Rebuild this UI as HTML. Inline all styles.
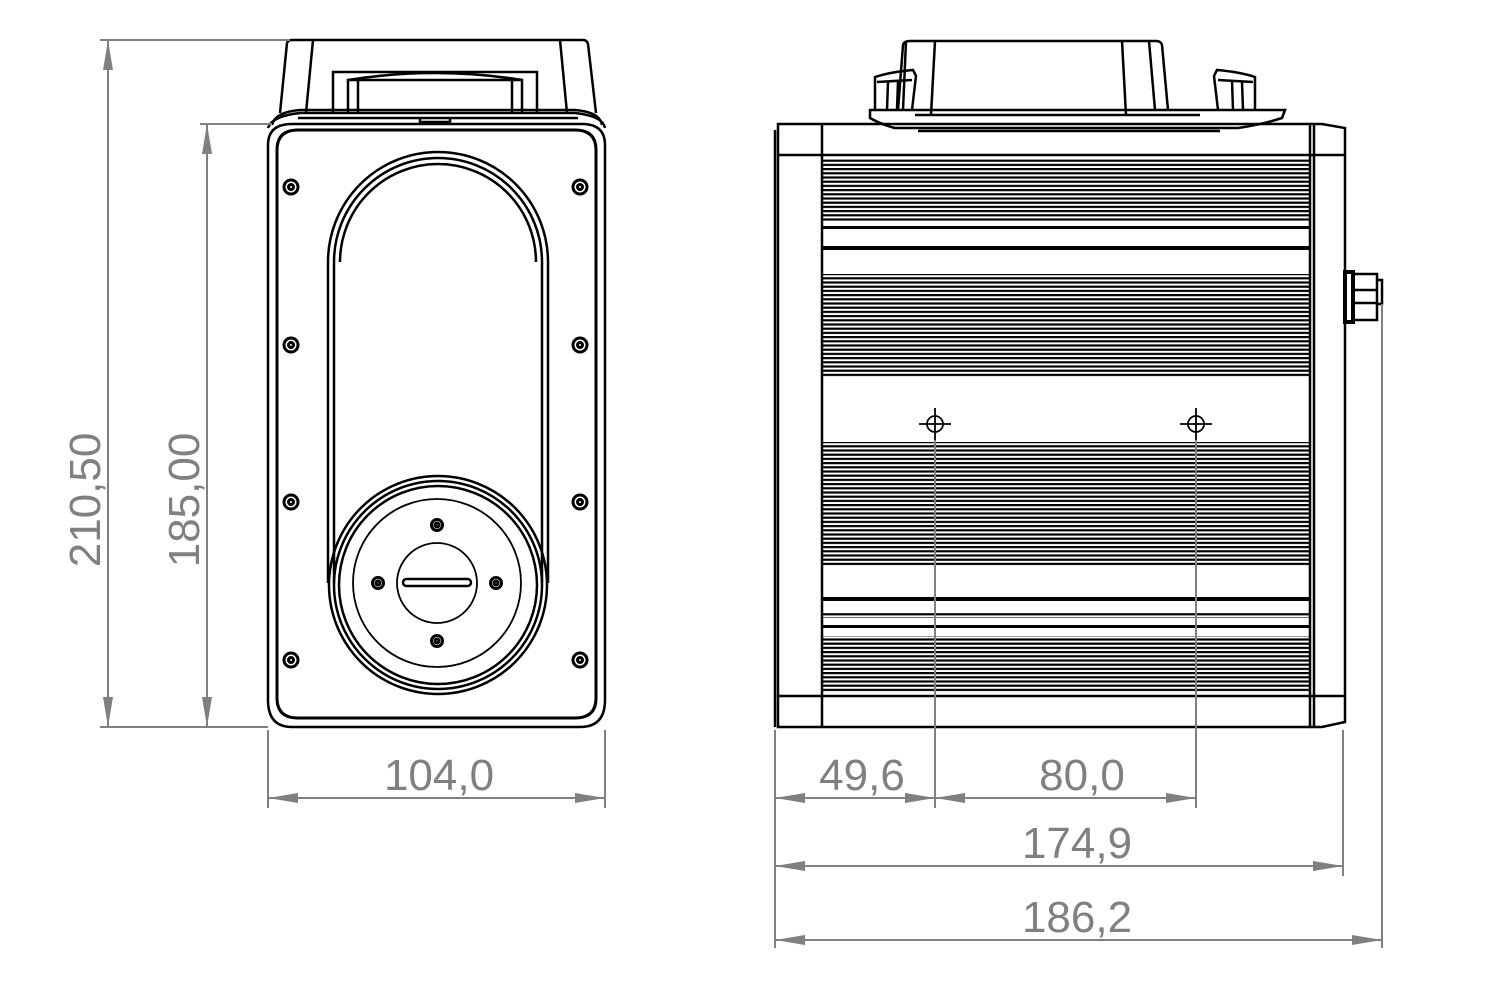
<!DOCTYPE html>
<html><head><meta charset="utf-8"><style>html,body{margin:0;padding:0;background:#fff}svg{display:block}</style></head>
<body>
<svg width="1492" height="997" viewBox="0 0 1492 997" xmlns="http://www.w3.org/2000/svg">
<defs>
<pattern id="fins" x="0" y="0" width="10" height="4.2" patternUnits="userSpaceOnUse">
<rect x="0" y="0" width="10" height="2.2" fill="#000"/>
</pattern>
<marker id="a" viewBox="0 0 30 12" refX="30" refY="6" markerWidth="30" markerHeight="12" markerUnits="userSpaceOnUse" orient="auto-start-reverse"><path d="M0,1 L30,6 L0,11 Z" fill="#808080"/></marker>
</defs>

<!-- ============ LEFT VIEW ============ -->
<g fill="none" stroke="#000" stroke-width="2.5">
<path d="M280,113 L287,43 Q288,40 292,40 L583,40 Q587,40 588,44 L596,113"/>
<path d="M313,40 L306,113 M560,40 L567,113"/>
<path d="M333,112 L333,72 L537,72 L537,112"/>
<path d="M348,112 L348,80 L522,80 L522,112"/>
<path d="M358,112 L358,80 M512,112 L512,80"/>
<path d="M348,80 Q435,66 522,80"/>
<path d="M272,125 Q275,112 300,110 L575,110 Q600,112 602,125"/>
<path d="M268,128 Q272,116 300,113 L575,113 Q603,116 605,128"/>
<path d="M298,118 L578,118"/>
<path d="M420,118 L420,122 L450,122 L450,118"/>
<path d="M268,145 Q268,124 292,124 L582,124 Q605,124 605,145 L605,700 Q605,727 580,727 L292,727 Q268,727 268,700 Z"/>
<path d="M277,150 Q277,130 298,130 L575,130 Q596,130 596,150 L596,698 Q596,718 575,718 L298,718 Q277,718 277,698 Z" stroke-width="3"/>
<path d="M328,583 L328,262 A110,110 0 0 1 548,262 L548,583"/>
<path d="M334,583 L334,262 A104,104 0 0 1 542,262 L542,583"/>
<path d="M340,262 A98,98 0 0 1 536,262"/>
<circle cx="438" cy="585" r="109"/>
<circle cx="438" cy="585" r="104"/>
<circle cx="438" cy="585" r="99"/>
<circle cx="437" cy="583" r="84" stroke-width="1.8"/>
<circle cx="437" cy="583" r="40" stroke-width="1.8"/>
<rect x="403" y="579" width="68" height="7" rx="3.5"/>
</g>
<g fill="none" stroke="#000" stroke-width="3">
<circle cx="437" cy="525" r="5.5"/><circle cx="437" cy="525" r="2"/>
<circle cx="378" cy="583" r="5.5"/><circle cx="378" cy="583" r="2"/>
<circle cx="496" cy="583" r="5.5"/><circle cx="496" cy="583" r="2"/>
<circle cx="437" cy="641" r="5.5"/><circle cx="437" cy="641" r="2"/>
<circle cx="291" cy="187" r="7"/><circle cx="291" cy="187" r="2.5"/>
<circle cx="580" cy="187" r="7"/><circle cx="580" cy="187" r="2.5"/>
<circle cx="291" cy="345" r="7"/><circle cx="291" cy="345" r="2.5"/>
<circle cx="580" cy="345" r="7"/><circle cx="580" cy="345" r="2.5"/>
<circle cx="291" cy="502" r="7"/><circle cx="291" cy="502" r="2.5"/>
<circle cx="580" cy="502" r="7"/><circle cx="580" cy="502" r="2.5"/>
<circle cx="291" cy="660" r="7"/><circle cx="291" cy="660" r="2.5"/>
<circle cx="580" cy="660" r="7"/><circle cx="580" cy="660" r="2.5"/>
</g>

<!-- ============ RIGHT VIEW ============ -->
<g fill="none" stroke="#000" stroke-width="2.5">
<path d="M898,110 L903,45 Q904,41 910,41 L1156,41 Q1161,41 1162,45 L1168,110"/>
<path d="M906,41 L903,110 M935,41 L931,115 M1122,41 L1126,115 M1149,41 L1155,110"/>
<!-- left ear -->
<path d="M875,110 L875,77 Q890,72 913,70 L916,76 L912,110"/>
<path d="M877,82 L912,80 M888,82 L887,110 M898,81 L897,110"/>
<!-- right ear -->
<path d="M1255,110 L1255,77 Q1240,72 1217,70 L1214,76 L1218,110"/>
<path d="M1253,82 L1218,80 M1242,82 L1243,110 M1232,81 L1233,110"/>
<path d="M870,110 L1285,110 L1282,118 Q1260,125 1238,128 L895,128 Q880,124 870,118 Z"/>
<path d="M918,131 L1220,131"/>
<path d="M915,115 L1200,115"/>
<rect x="778" y="124" width="532" height="603"/>
<path d="M1310,124 L1322,124 L1345,128 L1345,722 L1322,727 L1310,727"/>
<path d="M1314,124 L1314,727"/>
<line x1="822" y1="124" x2="822" y2="727"/>
<line x1="778" y1="155" x2="1345" y2="155"/>
<line x1="778" y1="696" x2="1345" y2="696"/>
<line x1="775" y1="130" x2="775" y2="727"/>
</g>
<g>
<rect x="822" y="158" width="488" height="64" fill="url(#fins)"/>
<rect x="822" y="226" width="488" height="3" fill="#000"/>
<rect x="822" y="246" width="488" height="4" fill="#000"/>
<rect x="822" y="274" width="488" height="104" fill="url(#fins)"/>
<rect x="822" y="442" width="488" height="124" fill="url(#fins)"/>
<rect x="822" y="597" width="488" height="4" fill="#000"/>
<rect x="822" y="612" width="488" height="6" fill="url(#fins)"/>
<rect x="822" y="625" width="488" height="3" fill="#000"/>
<rect x="822" y="636" width="488" height="56" fill="url(#fins)"/>
</g>
<g fill="none" stroke="#000" stroke-width="2.5">
<rect x="1345" y="272" width="8" height="50" stroke-width="4"/>
<rect x="1353" y="274" width="24" height="46"/>
<line x1="1353" y1="290" x2="1377" y2="290"/>
<line x1="1353" y1="303" x2="1377" y2="303"/>
<path d="M1377,280 L1382,280 L1382,304 L1377,304"/>
</g>
<g fill="none" stroke="#000" stroke-width="1.8">
<circle cx="935" cy="424" r="8"/><line x1="919" y1="424" x2="951" y2="424"/><line x1="935" y1="408" x2="935" y2="440"/>
<circle cx="1196" cy="424" r="8"/><line x1="1180" y1="424" x2="1212" y2="424"/><line x1="1196" y1="408" x2="1196" y2="440"/>
</g>

<!-- ============ DIMENSIONS ============ -->
<g stroke="#808080" stroke-width="2" fill="none">
<line x1="100" y1="40" x2="290" y2="40"/>
<line x1="100" y1="727" x2="268" y2="727"/>
<line x1="200" y1="124" x2="272" y2="124"/>
<line x1="108" y1="40" x2="108" y2="727" marker-start="url(#a)" marker-end="url(#a)"/>
<line x1="207" y1="124" x2="207" y2="727" marker-start="url(#a)" marker-end="url(#a)"/>
<line x1="268" y1="730" x2="268" y2="808"/>
<line x1="605" y1="730" x2="605" y2="808"/>
<line x1="268" y1="798" x2="605" y2="798" marker-start="url(#a)" marker-end="url(#a)"/>
<line x1="775" y1="730" x2="775" y2="948"/>
<line x1="935" y1="440" x2="935" y2="808"/>
<line x1="1196" y1="440" x2="1196" y2="808"/>
<line x1="1343" y1="730" x2="1343" y2="876"/>
<line x1="1382" y1="304" x2="1382" y2="948"/>
<line x1="775" y1="798" x2="935" y2="798" marker-start="url(#a)" marker-end="url(#a)"/>
<line x1="935" y1="798" x2="1196" y2="798" marker-start="url(#a)" marker-end="url(#a)"/>
<line x1="775" y1="866" x2="1343" y2="866" marker-start="url(#a)" marker-end="url(#a)"/>
<line x1="775" y1="940" x2="1382" y2="940" marker-start="url(#a)" marker-end="url(#a)"/>
</g>
<g fill="#808080" font-family="Liberation Sans, sans-serif" font-size="44" text-anchor="middle">
<text x="439" y="790">104,0</text>
<text x="862" y="790">49,6</text>
<text x="1082" y="790">80,0</text>
<text x="1077" y="858">174,9</text>
<text x="1077" y="932">186,2</text>
<text transform="translate(100,500) rotate(-90)">210,50</text>
<text transform="translate(199,500) rotate(-90)">185,00</text>
</g>
</svg>
</body></html>
